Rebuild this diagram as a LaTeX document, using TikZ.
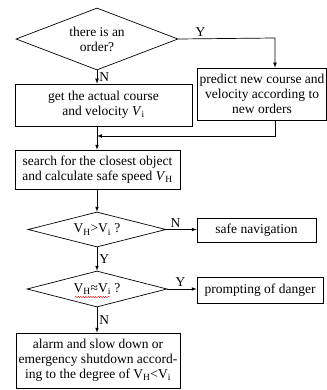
\documentclass[tikz,border=0pt]{standalone}
\usepackage{fontspec}
\setmainfont{Liberation Serif}
\usetikzlibrary{shapes.geometric,decorations.pathmorphing}

\tikzset{
    stepbox/.style={draw, rectangle, align=center, inner sep=2pt,
        font=\fontsize{13.5}{15}\selectfont},
    decision/.style={draw, diamond, align=center, inner sep=0pt,
        font=\fontsize{13.5}{15}\selectfont},
    lbl/.style={font=\fontsize{13.5}{15}\selectfont, inner sep=2pt}
}

\begin{document}
\begin{tikzpicture}[x=1pt, y=-1pt, >=latex, line width=0.7pt]
    \useasboundingbox (0,0) rectangle (326,390);

    % First decision and the two branches
    \node[decision, aspect=2.6, minimum width=162pt, minimum height=62pt] (order) at (97,39) {there is an\\order?};
    \node[stepbox, minimum width=177pt, minimum height=42pt] (getcourse) at (103.5,105) {get the actual course\\and velocity \textit{V}\textsubscript{i}};
    \node[stepbox, minimum width=126pt, minimum height=52pt] (predict) at (262,94) {predict new course and\\velocity according to\\new orders};
    \node[stepbox, minimum width=165pt, minimum height=39pt] (search) at (97.5,169.5) {search for the closest object\\and calculate safe speed \textit{V}\textsubscript{H}};

    % Speed checks
    \node[decision, aspect=4, minimum width=138pt, minimum height=35pt] (fast) at (97,229.5) {V\textsubscript{H}>V\textsubscript{i} ?};
    \node[stepbox, minimum width=119pt, minimum height=24pt] (safenav) at (256.5,230) {safe navigation};
    \node[decision, aspect=4, minimum width=140pt, minimum height=36pt] (near) at (97,289) {V\textsubscript{H}≈V\textsubscript{i} ?};
    \node[stepbox, minimum width=126pt, minimum height=26pt] (danger) at (260,290) {prompting of danger};
    \node[stepbox, minimum width=164pt, minimum height=55pt] (alarm) at (98,360.5) {alarm and slow down or\\emergency shutdown accord-\\ing to the degree of V\textsubscript{H}<V\textsubscript{i}};

    % Turning points
    \coordinate (turn) at (275,38);
    \coordinate (join) at (97,136);

    % Connectors
    \draw[->] (order.east) -- node[lbl, pos=0.23, above] {Y} (turn) -- (turn |- predict.north);
    \draw[->] (order.south) -- node[lbl, right] {N} (order.south |- getcourse.north);
    \draw[->] (turn |- predict.south) |- (join);
    \draw[->] (getcourse.south -| join) -- (join |- search.north);
    \draw[->] (search.south -| fast.north) -- (fast.north);
    \draw[->] (fast.east) -- node[lbl, pos=0.3, above] {N} (fast.east -| safenav.west);
    \draw[->] (fast.south) -- node[lbl, right] {Y} (near.north);
    \draw[->] (near.east) -- node[lbl, pos=0.45, above] {Y} (near.east -| danger.west);
    \draw[->] (near.south) -- node[lbl, right] {N} (near.south |- alarm.north);

    % Spell-check squiggle
    \draw[red, line width=0.4pt, decorate, decoration={snake, amplitude=0.6pt, segment length=2.5pt}] (75,297) -- (110,297);
\end{tikzpicture}
\end{document}
